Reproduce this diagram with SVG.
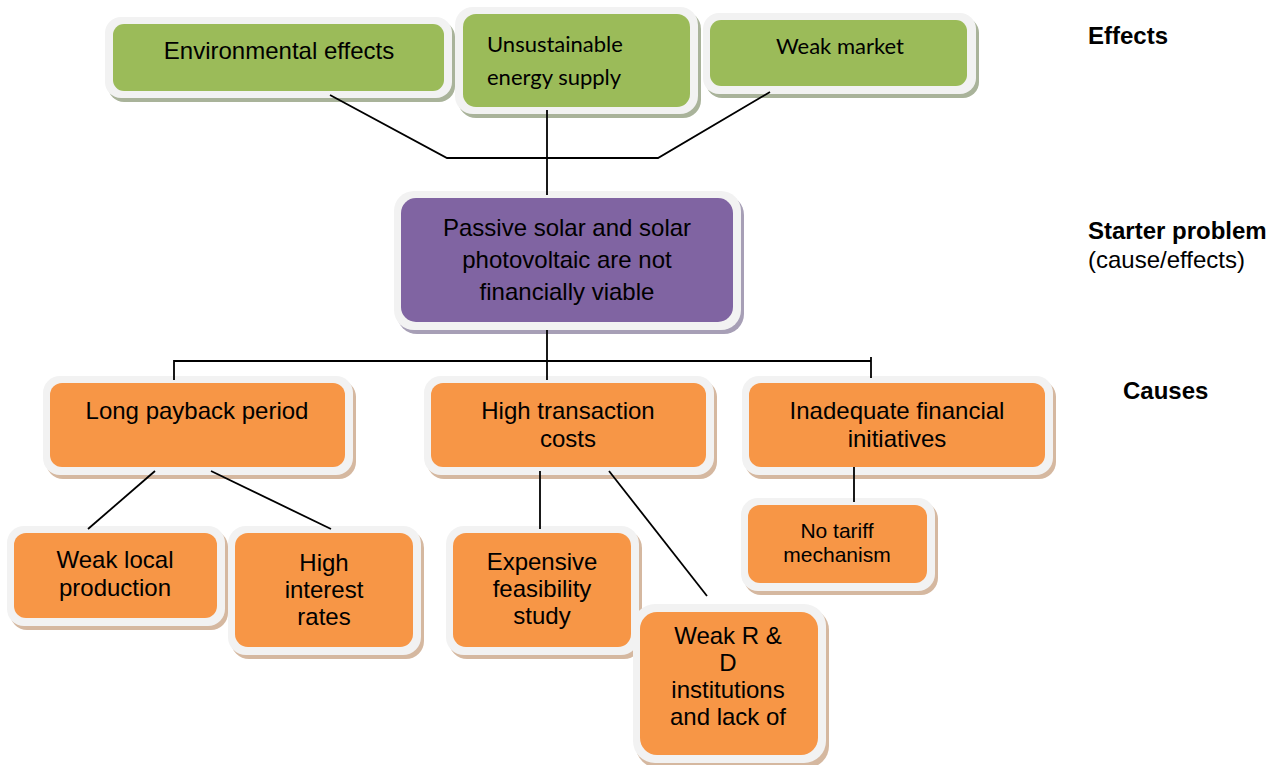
<svg xmlns="http://www.w3.org/2000/svg" width="1270" height="765" viewBox="0 0 1270 765">
  <style>
    .frame { fill: #f2f2f2; }
    .sh-g { fill: #a9b39a; }
    .sh-p { fill: #a79fb6; }
    .sh-o { fill: #d5b8a0; }
    .f-g { fill: #9bbb59; }
    .f-p { fill: #8064a2; }
    .f-o { fill: #f79646; }
    .t { font-family: "Liberation Sans", Arial, sans-serif; font-size: 24px; fill: #000; text-anchor: middle; }
    .c { font-family: Lato, "Open Sans", sans-serif; font-size: 22px; fill: #000; }
    .lbl { font-family: "Liberation Sans", Arial, sans-serif; font-size: 24px; fill: #000; }
    .b { font-weight: bold; }
    .wire { stroke: #000; stroke-width: 1.8; fill: none; }
  </style>
  <rect width="1270" height="765" fill="#ffffff"/>

  <!-- effects -->
  <g id="env-effects">
    <rect class="sh-g" x="108" y="21" width="347" height="81" rx="16"/>
    <rect class="frame" x="105" y="17" width="347" height="81" rx="16"/>
    <rect class="f-g" x="113" y="24" width="331" height="67" rx="11"/>
    <text class="t" x="279" y="59">Environmental effects</text>
  </g>
  <g id="unsustainable-supply">
    <rect class="sh-g" x="458" y="11" width="243" height="107" rx="18"/>
    <rect class="frame" x="455" y="7" width="243" height="107" rx="18"/>
    <rect class="f-g" x="463" y="14" width="227" height="93" rx="13"/>
    <text class="c" x="487" y="52">Unsustainable</text>
    <text class="c" x="487" y="85">energy supply</text>
  </g>
  <g id="weak-market">
    <rect class="sh-g" x="706" y="17" width="273" height="81" rx="16"/>
    <rect class="frame" x="703" y="13" width="273" height="81" rx="16"/>
    <rect class="f-g" x="710" y="20" width="257" height="66" rx="11"/>
    <text class="c" x="840" y="54" text-anchor="middle">Weak market</text>
  </g>

  <!-- starter problem -->
  <g id="starter-problem">
    <rect class="sh-p" x="397" y="195" width="347" height="139" rx="20"/>
    <rect class="frame" x="394" y="191" width="347" height="139" rx="20"/>
    <rect class="f-p" x="401" y="198" width="332" height="124" rx="15"/>
    <text class="t" x="567" y="236">Passive solar and solar</text>
    <text class="t" x="567" y="268">photovoltaic are not</text>
    <text class="t" x="567" y="300">financially viable</text>
  </g>

  <!-- causes -->
  <g id="long-payback">
    <rect class="sh-o" x="46" y="380" width="310" height="99" rx="17"/>
    <rect class="frame" x="43" y="376" width="310" height="99" rx="17"/>
    <rect class="f-o" x="50" y="383" width="295" height="84" rx="12"/>
    <text class="t" x="197" y="419">Long payback period</text>
  </g>
  <g id="high-transaction">
    <rect class="sh-o" x="427" y="380" width="290" height="99" rx="17"/>
    <rect class="frame" x="424" y="376" width="290" height="99" rx="17"/>
    <rect class="f-o" x="431" y="383" width="275" height="84" rx="12"/>
    <text class="t" x="568" y="419">High transaction</text>
    <text class="t" x="568" y="447">costs</text>
  </g>
  <g id="inadequate-initiatives">
    <rect class="sh-o" x="745" y="380" width="311" height="99" rx="17"/>
    <rect class="frame" x="742" y="376" width="311" height="99" rx="17"/>
    <rect class="f-o" x="749" y="383" width="296" height="84" rx="12"/>
    <text class="t" x="897" y="419">Inadequate financial</text>
    <text class="t" x="897" y="447">initiatives</text>
  </g>

  <!-- sub-causes -->
  <g id="weak-local-production">
    <rect class="sh-o" x="10" y="530" width="218" height="100" rx="17"/>
    <rect class="frame" x="7" y="526" width="218" height="100" rx="17"/>
    <rect class="f-o" x="14" y="533" width="203" height="85" rx="12"/>
    <text class="t" x="115" y="568">Weak local</text>
    <text class="t" x="115" y="596">production</text>
  </g>
  <g id="high-interest">
    <rect class="sh-o" x="231" y="530" width="193" height="129" rx="18"/>
    <rect class="frame" x="228" y="526" width="193" height="129" rx="18"/>
    <rect class="f-o" x="235" y="533" width="178" height="114" rx="13"/>
    <text class="t" x="324" y="571">High</text>
    <text class="t" x="324" y="598">interest</text>
    <text class="t" x="324" y="625">rates</text>
  </g>
  <g id="expensive-feasibility">
    <rect class="sh-o" x="449" y="530" width="193" height="129" rx="18"/>
    <rect class="frame" x="446" y="526" width="193" height="129" rx="18"/>
    <rect class="f-o" x="453" y="533" width="178" height="114" rx="13"/>
    <text class="t" x="542" y="570">Expensive</text>
    <text class="t" x="542" y="597">feasibility</text>
    <text class="t" x="542" y="624">study</text>
  </g>
  <g id="no-tariff">
    <rect class="sh-o" x="744" y="502" width="194" height="93" rx="17"/>
    <rect class="frame" x="741" y="498" width="194" height="93" rx="17"/>
    <rect class="f-o" x="748" y="505" width="179" height="78" rx="12"/>
    <text class="t" x="837" y="538" style="font-size:21px">No tariff</text>
    <text class="t" x="837" y="562" style="font-size:21px">mechanism</text>
  </g>
  <g id="weak-rd">
    <rect class="sh-o" x="636" y="608" width="193" height="160" rx="22"/>
    <rect class="frame" x="633" y="604" width="193" height="159" rx="22"/>
    <rect class="f-o" x="640" y="612" width="178" height="143" rx="17"/>
    <text class="t" x="728" y="644">Weak R &amp;</text>
    <text class="t" x="728" y="671">D</text>
    <text class="t" x="728" y="698">institutions</text>
    <text class="t" x="728" y="725">and lack of</text>
  </g>

  <!-- connectors, drawn over the box frames -->
  <g id="connectors">
    <polyline class="wire" points="330,95 447,158 658,158 770,92"/>
    <line class="wire" x1="547" y1="110" x2="547" y2="195"/>
    <line class="wire" x1="547" y1="330" x2="547" y2="380"/>
    <polyline class="wire" points="174,380 174,361 871,361"/>
    <line class="wire" x1="871" y1="357" x2="871" y2="378"/>
    <line class="wire" x1="155" y1="471" x2="88" y2="529"/>
    <line class="wire" x1="211" y1="471" x2="331" y2="529"/>
    <line class="wire" x1="540" y1="471" x2="540" y2="529"/>
    <line class="wire" x1="609" y1="471" x2="707" y2="596"/>
    <line class="wire" x1="854" y1="467" x2="854" y2="502"/>
  </g>

  <!-- level labels -->
  <g id="level-labels">
    <text class="lbl b" x="1088" y="44">Effects</text>
    <text class="lbl b" x="1088" y="239">Starter problem</text>
    <text class="lbl" x="1088" y="268">(cause/effects)</text>
    <text class="lbl b" x="1123" y="399">Causes</text>
  </g>
</svg>
